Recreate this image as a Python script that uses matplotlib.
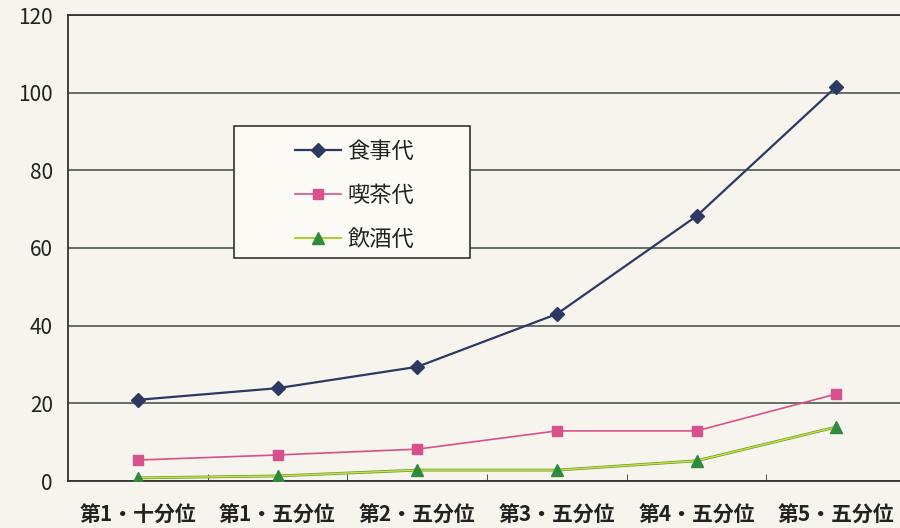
import numpy as np
import matplotlib.pyplot as plt
from matplotlib.patches import Rectangle

plt.rcParams['font.family'] = ['Noto Sans CJK JP', 'DejaVu Sans']

categories = ["第1・十分位", "第1・五分位", "第2・五分位", "第3・五分位", "第4・五分位", "第5・五分位"]
food = [20.9, 23.9, 29.4, 43.0, 68.2, 101.5]
cafe = [5.4, 6.7, 8.2, 12.9, 12.9, 22.4]
drink = [0.8, 1.3, 2.8, 2.8, 5.2, 13.9]

bg = '#f6f4ec'
fig = plt.figure(figsize=(9, 5.28), dpi=100, facecolor=bg)
ax = fig.add_axes([68 / 900, 47 / 528, 1 - 68 / 900, 466 / 528])
ax.set_facecolor(bg)

xs = np.arange(len(categories))

# 食事代
h1, = ax.plot(xs, food, color='#2c3a63', lw=1.6, marker='D', ms=7, zorder=4, label="食事代")
# 喫茶代
h2, = ax.plot(xs, cafe, color='#d8508c', lw=1.2, marker='s', ms=7, zorder=4, label="喫茶代")
# 飲酒代: yellow line over a darker green edge
ax.plot(xs, drink, color='#5a9a30', lw=2.0, zorder=3)
ax.plot(xs, drink, color='#d6e040', lw=1.0, zorder=3)
ax.plot(xs, drink, ls='none', marker='^', ms=9, color='#2e8a3c', zorder=4)
h3, = ax.plot([], [], color='#a8cc2a', lw=1.4, marker='^', ms=9, mfc='#2e8a3c', mec='#2e8a3c',
              label="飲酒代")

ax.set_ylim(0, 120)
ax.set_xlim(-0.5, 5.457)
ax.set_yticks(range(0, 121, 20))
ax.yaxis.grid(True, color='#3c4a42', lw=1.1)
ax.set_axisbelow(True)
ax.set_xticks(xs)
ax.set_xticklabels(categories, fontsize=15, fontweight='bold', color='#222222')
ax.set_xticks(np.arange(0.5, 5, 1), minor=True)
ax.tick_params(axis='x', which='major', length=0, pad=17)
ax.tick_params(axis='x', which='minor', direction='in', length=5, color='#333333')
ax.tick_params(axis='y', length=0, labelsize=15, pad=11, labelcolor='#222222')
for s in ['left', 'bottom', 'top']:
    ax.spines[s].set_color('#333333')
    ax.spines[s].set_linewidth(1.3)
ax.spines['right'].set_visible(False)

# legend box drawn separately so its size matches
ax.add_patch(Rectangle((234 / 900, 1 - 258 / 528), 236 / 900, 132 / 528, transform=fig.transFigure,
                       facecolor='#fbfaf5', edgecolor='#333333', lw=1.2, zorder=5))
leg = ax.legend(handles=[h1, h2, h3], loc='upper left',
                bbox_to_anchor=(295 / 900, 1 - 140 / 528), bbox_transform=fig.transFigure,
                fontsize=16, frameon=False, labelspacing=0.95, handlelength=2.05,
                handletextpad=0.3, borderpad=0, borderaxespad=0)
leg.set_zorder(6)
for t in leg.get_texts():
    t.set_color('#222222')

fig.savefig('out.png', dpi=100, facecolor=bg)
